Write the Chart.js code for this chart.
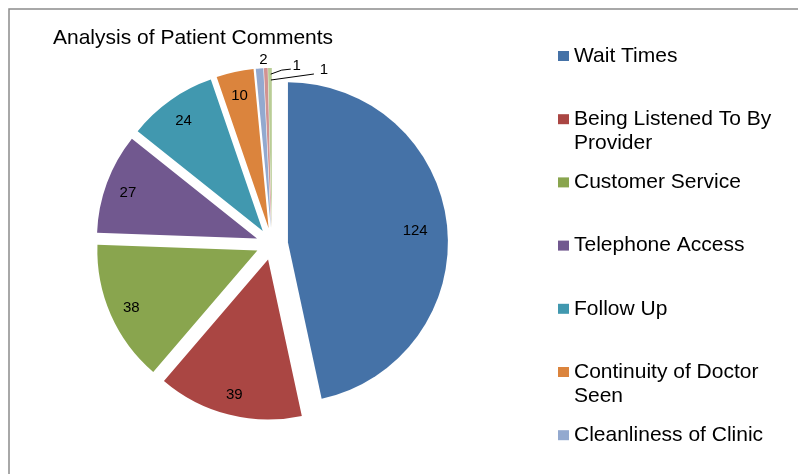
<!DOCTYPE html>
<html>
<head>
<meta charset="utf-8">
<title>Analysis of Patient Comments</title>
<script src="https://cdn.jsdelivr.net/npm/chart.js@4.4.1/dist/chart.umd.min.js"></script>
<style>
    html, body { margin: 0; padding: 0; background: #fff; }
    #wrap { width: 798px; height: 474px; }
</style>
</head>
<body>
<div id="wrap"><canvas id="pieChart" width="798" height="474"></canvas></div>
<script>
// the last two legend entries sit below the visible area, their names can't be read
var categories = ["Wait Times", "Being Listened To By Provider", "Customer Service", "Telephone Access",
    "Follow Up", "Continuity of Doctor Seen", "Cleanliness of Clinic", "", ""];
var comments = [124, 39, 38, 27, 24, 10, 2, 1, 1];
var sliceColors = ['#4572A7', '#AA4643', '#89A54E', '#71588F', '#4198AF', '#DB843D', '#93A9CF', '#D19392', '#B9CD96'];

var FONT = '"Liberation Sans", Arial, sans-serif';
var explode = 16;

// small slices get their label outside, offsets from the slice's outer point
var outsideLabels = {
    6: { dx: 4, dy: -9 },
    7: { dx: 31, dy: -2, leader: [[5, 6], [16, 2], [25, 1]] },
    8: { dx: 54, dy: 2, leader: [[1, 12], [44, 6]] }
};

function sliceDir(arc) {
    var mid = (arc.startAngle + arc.endAngle) / 2;
    return { x: Math.cos(mid), y: Math.sin(mid) };
}

function wrapText(ctx, text, maxW) {
    var words = text.split(' '), lines = [], line = '';
    words.forEach(function(w) {
        var test = line ? line + ' ' + w : w;
        if (line && ctx.measureText(test).width > maxW) {
            lines.push(line);
            line = w;
        } else {
            line = test;
        }
    });
    if (line) lines.push(line);
    return lines;
}

// Excel style explosion: every slice moved out along its middle
var explodePlugin = {
    id: 'explode',
    beforeDatasetDraw: function(chart, args) {
        var ctx = chart.ctx;
        args.meta.data.forEach(function(arc) {
            var d = sliceDir(arc);
            ctx.save();
            ctx.translate(d.x * explode, d.y * explode);
            arc.draw(ctx);
            ctx.restore();
        });
        return false;
    }
};

var decorPlugin = {
    id: 'decor',
    afterDraw: function(chart) {
        var ctx = chart.ctx;
        var total = comments.reduce(function(a, b) { return a + b; }, 0);
        ctx.save();

        // frame
        ctx.strokeStyle = '#8c8c8c';
        ctx.lineWidth = 1.5;
        ctx.strokeRect(9, 9, 1000, 1000);

        // title
        ctx.fillStyle = '#000';
        ctx.font = '21px ' + FONT;
        ctx.textAlign = 'left';
        ctx.textBaseline = 'middle';
        ctx.fillText("Analysis of Patient Comments", 53, 38);

        // legend
        categories.forEach(function(name, i) {
            var y = 56 + 63.2 * i;
            ctx.fillStyle = sliceColors[i];
            ctx.fillRect(558, y - 5, 11, 10);
            ctx.fillStyle = '#000';
            wrapText(ctx, name, 205).forEach(function(line, j) {
                ctx.fillText(line, 574, y + j * 24);
            });
        });

        // data labels
        var meta = chart.getDatasetMeta(0);
        ctx.font = '15px ' + FONT;
        ctx.textAlign = 'center';
        ctx.strokeStyle = '#000';
        ctx.lineWidth = 1;
        meta.data.forEach(function(arc, i) {
            var d = sliceDir(arc);
            var cx = arc.x + d.x * explode, cy = arc.y + d.y * explode;
            var out = outsideLabels[i];
            if (out) {
                var ox = cx + d.x * arc.outerRadius, oy = cy + d.y * arc.outerRadius;
                if (out.leader) {
                    ctx.beginPath();
                    out.leader.forEach(function(p, k) {
                        if (k === 0) ctx.moveTo(ox + p[0], oy + p[1]);
                        else ctx.lineTo(ox + p[0], oy + p[1]);
                    });
                    ctx.stroke();
                }
                ctx.fillText(comments[i], ox + out.dx, oy + out.dy);
            } else {
                var f = comments[i] / total > 0.4 ? 0.8 : 0.86;
                ctx.fillText(comments[i], cx + d.x * arc.outerRadius * f, cy + d.y * arc.outerRadius * f + 2);
            }
        });
        ctx.restore();
    }
};

var ctx1 = document.getElementById('pieChart');

var chart1 = new Chart(ctx1, {
    type: 'pie',
    data: {
        labels: categories,
        datasets: [
            {
                label: 'Comments',
                data: comments,
                backgroundColor: sliceColors,
                borderWidth: 0
            }
        ]
    },
    options: {
        responsive: false,
        animation: false,
        events: [],
        layout: {
            padding: { left: 112, right: 366, top: 84, bottom: 70 }
        },
        plugins: {
            legend: { display: false },
            tooltip: { enabled: false }
        }
    },
    plugins: [explodePlugin, decorPlugin]
});
</script>
</body>
</html>
